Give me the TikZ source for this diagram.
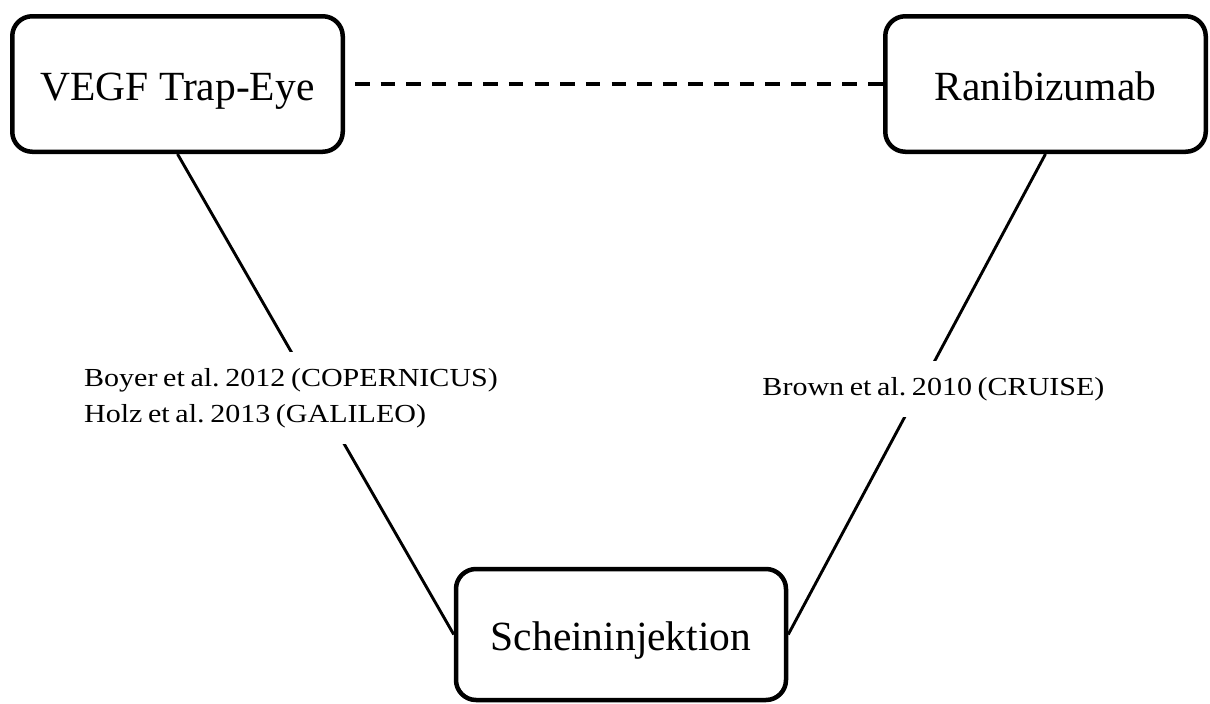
\documentclass[tikz,border=0pt]{standalone}
\usepackage{fontspec}
\setmainfont{Liberation Serif}
\newfontfamily\lblfont[FakeStretch=1.155, WordSpace=0.75]{Liberation Serif}
\begin{document}
\begin{tikzpicture}[x=1pt,y=-1pt,
  box/.style={draw, line width=4.5pt, rounded corners=20pt,
    font={\fontsize{41.5}{48}\selectfont}, text height=32pt, text depth=0pt, inner sep=0pt},
  conn/.style={line width=2.9pt},
  dashconn/.style={line width=3.2pt, dash pattern=on 14.5pt off 11.15pt, dash phase=15.65pt},
  lbl/.style={fill=white, font={\lblfont\fontsize{26}{36}\selectfont\frenchspacing}, align=left,
    inner xsep=4pt, inner ysep=16pt}]
\useasboundingbox (0,0) rectangle (1210,704);
\node[box, minimum width=330.5pt, minimum height=135.5pt] (vegf) at (177.5,84) {VEGF Trap-Eye};
\node[box, minimum width=320.5pt, minimum height=135.5pt] (ranib) at (1045.5,84) {Ranibizumab};
\node[box, minimum width=330pt, minimum height=131pt] (schein) at (621,634.5) {Scheininjektion};
\draw[dashconn] (vegf.east) -- (ranib.west);
\draw[conn] (vegf.south) -- node[lbl, xshift=-24.6pt, yshift=-3.8pt]
  {Boyer et al. 2012 (COPERNICUS)\\Holz et al. 2013 (GALILEO)} (schein.west);
\draw[conn] (ranib.south) -- node[lbl, xshift=16.6pt, yshift=5.25pt]
  {Brown et al. 2010 (CRUISE)} (schein.east);
\end{tikzpicture}
\end{document}
